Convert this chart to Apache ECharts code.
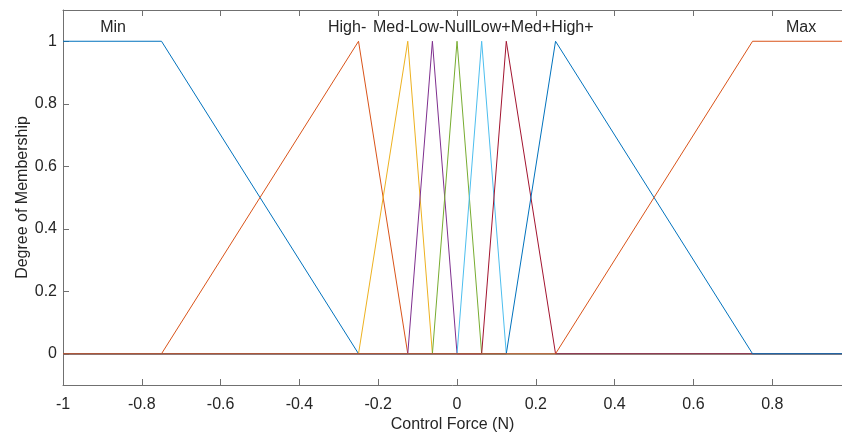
<!DOCTYPE html>
<html>
<head>
<meta charset="utf-8">
<script src="https://cdn.jsdelivr.net/npm/echarts@6/dist/echarts.min.js"></script>
<style>
html,body{margin:0;padding:0;background:#fff;}
#chart{width:842px;height:434px;}
</style>
</head>
<body>
<div id="chart"></div>
<script>
// Membership function break points (x) and degrees (y)
const mfNames = ['Min', 'High-', 'Med-', 'Low-', 'Null', 'Low+', 'Med+', 'High+', 'Max'];
const xMinMF   = [-1, -0.75, -0.25, 1];
const yMinMF   = [1, 1, 0, 0];
const xHighNeg = [-1, -0.75, -0.25, -0.125, 1];
const yHighNeg = [0, 0, 1, 0, 0];
const xMedNeg  = [-1, -0.25, -0.125, -0.0625, 1];
const yMedNeg  = [0, 0, 1, 0, 0];
const xLowNeg  = [-1, -0.125, -0.0625, 0, 1];
const yLowNeg  = [0, 0, 1, 0, 0];
const xNull    = [-1, -0.0625, 0, 0.0625, 1];
const yNull    = [0, 0, 1, 0, 0];
const xLowPos  = [-1, 0, 0.0625, 0.125, 1];
const yLowPos  = [0, 0, 1, 0, 0];
const xMedPos  = [-1, 0.0625, 0.125, 0.25, 1];
const yMedPos  = [0, 0, 1, 0, 0];
const xHighPos = [-1, 0.125, 0.25, 0.75, 1];
const yHighPos = [0, 0, 1, 0, 0];
const xMaxMF   = [-1, 0.25, 0.75, 1];
const yMaxMF   = [0, 0, 1, 1];

// Label anchor positions (data coords)
const labelX = [-0.873, -0.279, -0.167, -0.076, 0.003, 0.087, 0.188, 0.293, 0.873];
const labelY = 1.045;

const xTicks = [-1, -0.8, -0.6, -0.4, -0.2, 0, 0.2, 0.4, 0.6, 0.8];
const yTicks = [0, 0.2, 0.4, 0.6, 0.8, 1];

const colors = ['#0072BD', '#D95319', '#EDB120', '#7E2F8E', '#77AC30', '#4DBEEE', '#A2142F', '#0072BD', '#D95319'];

const xsAll = [xMinMF, xHighNeg, xMedNeg, xLowNeg, xNull, xLowPos, xMedPos, xHighPos, xMaxMF];
const ysAll = [yMinMF, yHighNeg, yMedNeg, yLowNeg, yNull, yLowPos, yMedPos, yHighPos, yMaxMF];

const textColor = '#262626';
const axisColor = '#707070';
const font = 'Liberation Sans, Arial, Helvetica, sans-serif';

const series = mfNames.map((n, i) => ({
  name: n,
  type: 'line',
  data: xsAll[i].map((x, j) => [x, ysAll[i][j]]),
  showSymbol: false,
  symbol: 'none',
  lineStyle: { color: colors[i], width: 1 },
  itemStyle: { color: colors[i] },
  animation: false,
  silent: true
}));

series.push({
  type: 'scatter',
  symbolSize: 0,
  itemStyle: { opacity: 1, color: 'rgba(0,0,0,0)' },
  data: mfNames.map((n, i) => ({ value: [labelX[i], labelY], name: n })),
  label: {
    show: true,
    formatter: p => p.name,
    position: 'inside',
    color: textColor,
    opacity: 1,
    fontSize: 16,
    fontFamily: font,
    align: 'center',
    verticalAlign: 'middle'
  },
  animation: false,
  silent: true,
  z: 5
});

const chart = echarts.init(document.getElementById('chart'), null, { renderer: 'canvas' });
chart.setOption({
  backgroundColor: '#ffffff',
  animation: false,
  grid: { left: 63, right: 0, top: 10, bottom: 49, containLabel: false, outerBoundsMode: 'none' },
  xAxis: [{
    type: 'value',
    position: 'bottom',
    min: -1,
    max: 0.977,
    interval: 0.2,
    name: 'Control Force (N)',
    nameLocation: 'middle',
    nameGap: 32,
    nameMoveOverlap: false,
    nameTextStyle: { color: textColor, fontSize: 16, fontFamily: font },
    axisLine: { show: true, onZero: false, lineStyle: { color: axisColor, width: 1 } },
    axisTick: { show: true, inside: true, length: 6, lineStyle: { color: axisColor }, customValues: xTicks },
    axisLabel: {
      color: textColor, fontSize: 16, fontFamily: font, margin: 12,
      customValues: xTicks,
      formatter: v => String(Math.round(v * 10) / 10)
    },
    splitLine: { show: false }
  }, {
    type: 'value',
    position: 'top',
    min: -1,
    max: 0.977,
    interval: 0.2,
    axisLine: { show: true, onZero: false, lineStyle: { color: axisColor, width: 1 } },
    axisTick: { show: true, inside: true, length: 6, lineStyle: { color: axisColor }, customValues: xTicks },
    axisLabel: { show: false },
    splitLine: { show: false }
  }],
  yAxis: [{
    type: 'value',
    min: -0.1,
    max: 1.1,
    name: 'Degree of Membership',
    nameLocation: 'middle',
    nameGap: 32,
    nameMoveOverlap: false,
    nameTextStyle: { color: textColor, fontSize: 16, fontFamily: font },
    axisLine: { show: true, onZero: false, lineStyle: { color: axisColor, width: 1 } },
    axisTick: { show: true, inside: true, length: 6, lineStyle: { color: axisColor }, customValues: yTicks },
    axisLabel: {
      color: textColor, fontSize: 16, fontFamily: font, margin: 6,
      customValues: yTicks,
      formatter: v => String(Math.round(v * 10) / 10)
    },
    splitLine: { show: false }
  }],
  series: series
});
</script>
</body>
</html>
